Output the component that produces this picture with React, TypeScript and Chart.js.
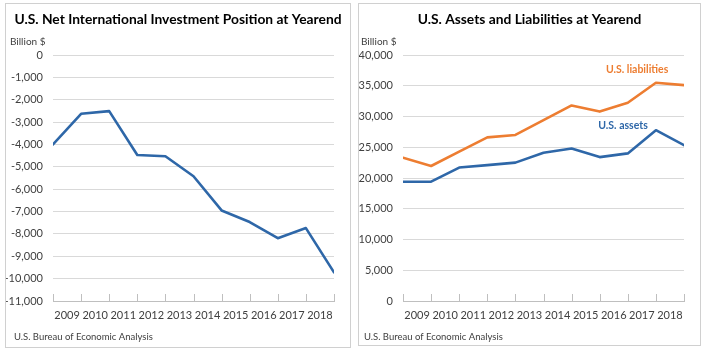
import React, { useEffect, useRef } from 'react';
import { Chart, registerables } from 'chart.js';

Chart.register(...registerables);

// ---- data ----
const pointYears = [2008, 2009, 2010, 2011, 2012, 2013, 2014, 2015, 2016, 2017, 2018];
const xTickLabels = ['2009', '2010', '2011', '2012', '2013', '2014', '2015', '2016', '2017', '2018'];
const niip = [-4000, -2630, -2510, -4470, -4530, -5420, -6950, -7470, -8190, -7740, -9720];
const usAssets = [19400, 19400, 21700, 22100, 22500, 24100, 24800, 23400, 24000, 27770, 25330];
const usLiabilities = [23300, 21950, 24300, 26600, 27000, 29400, 31800, 30800, 32230, 35490, 35100];
const niipTickRange = { min: -11000, max: 0, step: 1000 };
const alTickRange = { min: 0, max: 40000, step: 5000 };

const leftTitle = 'U.S. Net International Investment Position at Yearend';
const rightTitle = 'U.S. Assets and Liabilities at Yearend';
const unitLabel = 'Billion $';
const sourceLabel = 'U.S. Bureau of Economic Analysis';

const FONT = 'Lato, "Open Sans", sans-serif';
const BLUE = '#2e67a8';
const ORANGE = '#ed7d31';

function fmt(v: number): string {
  const s = Math.abs(v).toLocaleString('en-US');
  return v < 0 ? '-' + s : s;
}

const panelPlugin = {
  id: 'panelText',
  beforeDatasetsDraw(chart: any) {
    const ctx = chart.ctx;
    const area = chart.chartArea;
    const xs = chart.scales.x;
    ctx.save();
    ctx.strokeStyle = '#bfbfbf';
    ctx.lineWidth = 1;
    for (const yr of pointYears) {
      const px = Math.round(xs.getPixelForValue(yr)) + 0.5;
      ctx.beginPath();
      ctx.moveTo(px, area.bottom);
      ctx.lineTo(px, area.bottom - 7);
      ctx.stroke();
    }
    ctx.restore();
  },
  afterDraw(chart: any, _args: any, opts: any) {
    const ctx = chart.ctx;
    const xs = chart.scales.x;
    const ys = chart.scales.y;
    ctx.save();
    ctx.textBaseline = 'middle';
    ctx.fillStyle = '#000000';
    ctx.font = `bold 13.8px ${FONT}`;
    ctx.textAlign = 'center';
    ctx.fillText(opts.title, chart.width / 2, 16);

    ctx.fillStyle = '#404040';
    ctx.font = `10px ${FONT}`;
    ctx.textAlign = 'left';
    ctx.fillText(unitLabel, opts.unitX, 38);
    ctx.font = `9.5px ${FONT}`;
    ctx.fillText(sourceLabel, opts.sourceX, 333);

    for (const a of opts.notes || []) {
      ctx.fillStyle = a.color;
      ctx.font = `bold 10.5px ${FONT}`;
      ctx.textAlign = 'center';
      ctx.fillText(a.text, xs.getPixelForValue(a.x), ys.getPixelForValue(a.y));
    }
    ctx.restore();
  },
};

function buildConfig(
  datasets: any[],
  range: { min: number; max: number; step: number },
  yWidth: number,
  bottomPad: number,
  plugOpts: any
): any {
  return {
    type: 'line',
    data: {
      datasets: datasets.map((d) => ({
        data: pointYears.map((yr, i) => ({ x: yr, y: d.values[i] })),
        borderColor: d.color,
        backgroundColor: d.color,
        borderWidth: 2.6,
        pointRadius: 0,
        tension: 0,
        borderJoinStyle: 'round',
        borderCapStyle: 'round',
      })),
    },
    options: {
      responsive: false,
      animation: false,
      devicePixelRatio: 1,
      layout: { padding: { top: 51, right: 16, bottom: bottomPad, left: 0 } },
      plugins: {
        legend: { display: false },
        title: { display: false },
        tooltip: { enabled: false },
        panelText: plugOpts,
      },
      scales: {
        x: {
          type: 'linear',
          min: pointYears[0],
          max: pointYears[pointYears.length - 1],
          afterFit: (s: any) => {
            s.height = 24;
          },
          grid: { display: false, drawTicks: false },
          border: { display: true, color: '#bfbfbf', width: 1 },
          ticks: {
            stepSize: 0.5,
            autoSkip: false,
            maxRotation: 0,
            minRotation: 0,
            padding: 8,
            color: '#404040',
            font: { family: FONT, size: 11 },
            callback: (v: number) => {
              if (Math.abs(v - Math.round(v)) < 1e-6) return '';
              return xTickLabels[Math.floor(v) - pointYears[0]] ?? '';
            },
          },
        },
        y: {
          type: 'linear',
          min: range.min,
          max: range.max,
          afterFit: (s: any) => {
            s.width = yWidth;
          },
          grid: {
            drawTicks: false,
            color: (c: any) => (c.tick && c.tick.value === range.min ? 'rgba(0,0,0,0)' : '#d9d9d9'),
            lineWidth: 1,
          },
          border: { display: false },
          ticks: {
            stepSize: range.step,
            padding: 10,
            color: '#404040',
            font: { family: FONT, size: 11 },
            callback: (v: number) => fmt(v),
          },
        },
      },
    },
    plugins: [panelPlugin],
  };
}

function Panel(props: {
  left: number;
  top: number;
  width: number;
  height: number;
  make: () => any;
}) {
  const ref = useRef<HTMLCanvasElement>(null);
  useEffect(() => {
    if (!ref.current) return;
    const chart = new Chart(ref.current, props.make());
    return () => chart.destroy();
  }, []);
  return (
    <div
      style={{
        position: 'absolute',
        left: props.left,
        top: props.top,
        width: props.width,
        height: props.height,
        border: '1px solid #d0d0d0',
        boxSizing: 'border-box',
        background: '#fff',
      }}
    >
      <canvas
        ref={ref}
        width={props.width - 2}
        height={props.height - 2}
        style={{ display: 'block', width: props.width - 2, height: props.height - 2 }}
      />
    </div>
  );
}

export default function App() {
  return (
    <div
      style={{
        position: 'fixed',
        left: 0,
        top: 0,
        width: 710,
        height: 354,
        background: '#ffffff',
        overflow: 'hidden',
      }}
    >
      <Panel
        left={5}
        top={3}
        width={346}
        height={345}
        make={() =>
          buildConfig([{ values: niip, color: BLUE }], niipTickRange, 47, 22, {
            title: leftTitle,
            unitX: 4,
            sourceX: 8,
            notes: [],
          })
        }
      />
      <Panel
        left={358}
        top={3}
        width={343}
        height={343}
        make={() =>
          buildConfig(
            [
              { values: usLiabilities, color: ORANGE },
              { values: usAssets, color: BLUE },
            ],
            alTickRange,
            44,
            20,
            {
              title: rightTitle,
              unitX: 2,
              sourceX: 5,
              notes: [
                { text: 'U.S. liabilities', color: ORANGE, x: 2016.33, y: 37550 },
                { text: 'U.S. assets', color: BLUE, x: 2015.83, y: 28450 },
              ],
            }
          )
        }
      />
    </div>
  );
}
